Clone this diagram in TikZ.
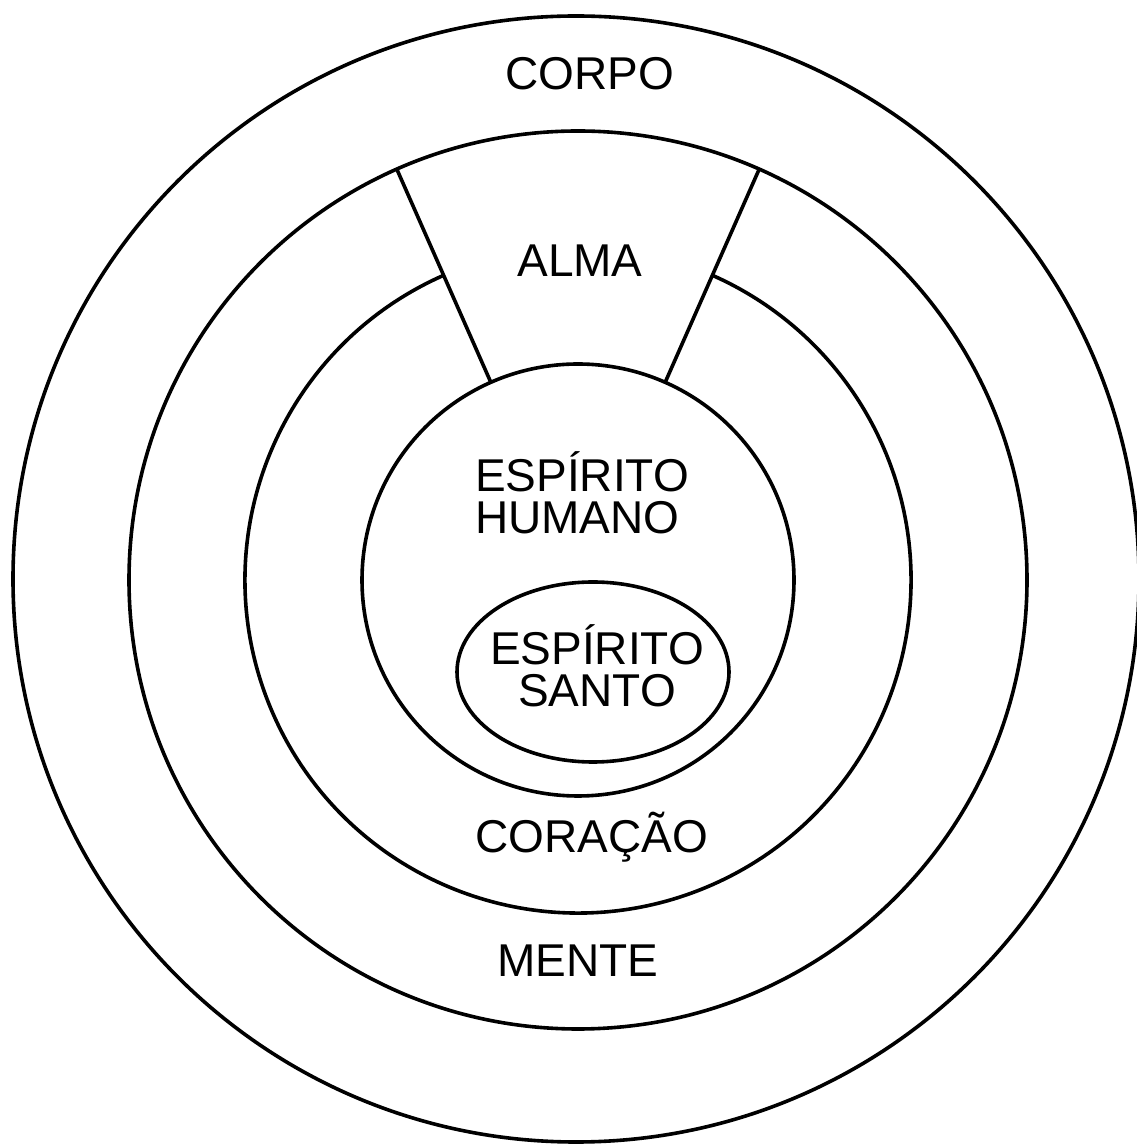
\documentclass[tikz,border=0pt]{standalone}
\usepackage{fontspec}
\setmainfont{Liberation Sans}
\usetikzlibrary{calc}
\tikzset{
  ring/.style={draw=black, line width=3.6pt},
  lbl/.style={inner sep=0pt, outer sep=0pt, font=\fontsize{46}{42}\selectfont, text=black},
}
\begin{document}
\begin{tikzpicture}[x=1pt,y=1pt]
\useasboundingbox (0,0) rectangle (1137,1144);
\fill[white] (0,0) rectangle (1137,1144);
\coordinate (C) at (578,564);
\coordinate (CO) at (576,565);
% outer circle (corpo)
\draw[ring] (CO) circle (563);
% mente circle
\draw[ring] (C) circle (449);
% espirito humano circle
\draw[ring] (C) circle (216);
% coracao arc with gap for alma
\draw[ring] ($(C)+(113.8:333)$) arc[start angle=113.8, end angle=426.2, radius=333];
% alma radial lines
\coordinate (l1) at ($(C)+(113.8:216)$);
\coordinate (l2) at ($(C)+(113.8:449)$);
\coordinate (r1) at ($(C)+(66.2:216)$);
\coordinate (r2) at ($(C)+(66.2:449)$);
\draw[ring] (l1) -- (l2);
\draw[ring] (r1) -- (r2);
% espirito santo ellipse
\draw[ring] (593,472) ellipse [x radius=136, y radius=90];
% labels
\node[lbl, anchor=base] (corpo) at (590,1054) {CORPO};
\node[lbl, anchor=base] (alma) at (580,867) {ALMA};
\node[lbl, anchor=base west] (eh1) at (475,652) {ESPÍRITO};
\node[lbl, anchor=base west] (eh2) at (475,610) {HUMANO};
\node[lbl, anchor=base] (es1) at (597,479) {ESPÍRITO};
\node[lbl, anchor=base] (es2) at (597,437) {SANTO};
\node[lbl, anchor=base] (coracao) at (592,291) {CORAÇÃO};
\node[lbl, anchor=base] (mente) at (578,167) {MENTE};
\end{tikzpicture}
\end{document}
